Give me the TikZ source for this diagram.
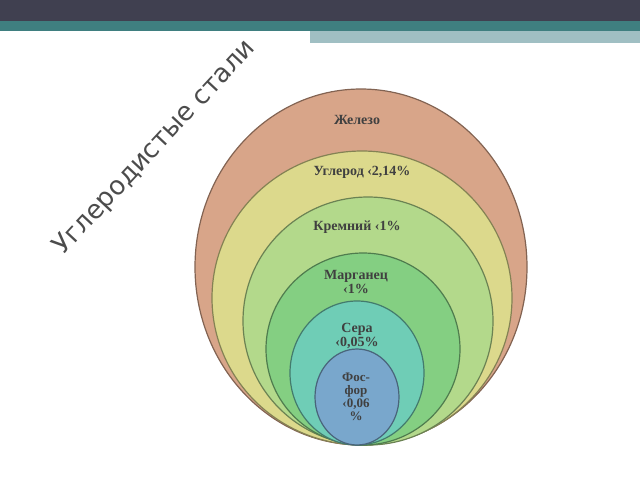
\documentclass[tikz,border=0pt]{standalone}
\usepackage{fontspec}
\setmainfont{Liberation Serif}
\newfontfamily\titlefont{DejaVu Sans}

\begin{document}
\begin{tikzpicture}[x=1pt,y=-1pt,
    % Styles
    ring/.style={draw=#1!60!black, line width=1.2pt, fill=#1},   % one layer
    lbl/.style={font=\bfseries\fontsize{14}{14}\selectfont, text=black!75, align=center}
]
  \definecolor{iron}{HTML}{D8A589}
  \definecolor{carbon}{HTML}{DCD98C}
  \definecolor{silicon}{HTML}{B3D98B}
  \definecolor{mangan}{HTML}{84CF82}
  \definecolor{sulfur}{HTML}{6FCDB6}
  \definecolor{phos}{HTML}{79A7CC}
  \useasboundingbox (0,0) rectangle (640,480);

  % Header bars
  \fill[fill={rgb,255:red,64;green,64;blue,80}] (0,0) rectangle (640,21);
  \fill[fill={rgb,255:red,63;green,127;blue,128}] (0,21) rectangle (640,31);
  \fill[fill={rgb,255:red,160;green,191;blue,195}] (310,31) rectangle (640,43);

  % Nested layers, all touching at the bottom
  \draw[ring=iron]    (361,267) ellipse (166 and 178);
  \draw[ring=carbon]  (362,298) ellipse (150 and 147);
  \draw[ring=silicon] (368,321) ellipse (125 and 124);
  \draw[ring=mangan]  (363,349) ellipse (97 and 96);
  \draw[ring=sulfur]  (357,373) ellipse (67 and 72);
  \draw[ring=phos]    (357,397) ellipse (42 and 48);

  % Labels
  \node[lbl] (fe) at (357,120) {Железо};
  \node[lbl] (c)  at (362,172) {Углерод ‹2,14\%};
  \node[lbl] (si) at (357,227) {Кремний ‹1\%};
  \node[lbl] (mn) at (356,282) {Марганец\\‹1\%};
  \node[lbl] (s)  at (357,336) {Сера\\‹0,05\%};
  \node[lbl, font=\bfseries\fontsize{13}{13}\selectfont] (p) at (356,397) {Фос-\\фор\\‹0,06\\\%};

  % Title
  \node[font=\titlefont\fontsize{26}{28}\selectfont, text=black!70, rotate=47]
    (title) at (155,148) {Углеродистые стали};
\end{tikzpicture}
\end{document}
